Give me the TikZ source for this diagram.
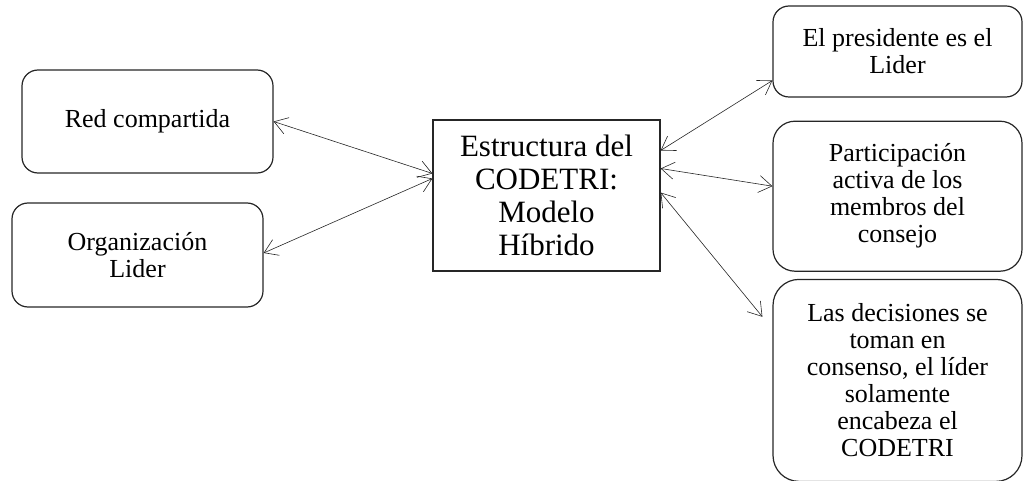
\documentclass[tikz,border=0pt]{standalone}
\usepackage{fontspec}
\setmainfont{LiberationSerif}[Extension=.ttf,UprightFont=*-Regular,BoldFont=*-Bold]
\usetikzlibrary{arrows.meta,positioning}

\begin{document}
\begin{tikzpicture}[x=1pt,y=-1pt,<->,>={Straight Barb[length=13pt,width=17pt]},line width=1.2pt,semithick]
		\tikzstyle{every node}=[draw=black!85,line width=1.2pt,align=center,text=black,inner sep=0pt]
		\tikzstyle{rbox}=[rounded corners=16pt,font=\fontsize{26}{27}\selectfont]
		\tikzstyle{cbox}=[font=\fontsize{31}{33}\selectfont]
		\useasboundingbox (0,0) rectangle (1024,481);

		\node[rbox,minimum width=251pt,minimum height=103pt] (Red) at (147.5,121.5) {Red compartida};
		\node[rbox,minimum width=251pt,minimum height=104pt] (Org) at (137.5,255) {Organización\\Lider};
		\node[cbox,minimum width=227pt,minimum height=151pt] (Estr) at (546.5,195.5) {Estructura del\\CODETRI:\\Modelo\\Híbrido};
		\node[rbox,minimum width=249pt,minimum height=91pt] (Pres) at (897.5,51.5) {El presidente es el\\Lider};
		\node[rbox,rounded corners=22pt,minimum width=249pt,minimum height=150pt] (Part) [below=23pt of Pres] {Participación\\activa de los\\membros del\\consejo};
		\node[rbox,rounded corners=26pt,minimum width=249pt,minimum height=202pt] (Deci) [below=7pt of Part] {Las decisiones se\\toman en\\consenso, el líder\\solamente\\encabeza el\\CODETRI};

		\draw[draw=black!85] (Red.east) -- ([yshift=22pt]Estr.west);
		\draw[draw=black!85] ([yshift=2pt]Org.east) -- ([yshift=17pt]Estr.west);
		\draw[draw=black!85] ([yshift=45pt]Estr.east) -- ([yshift=-29pt]Pres.west);
		\draw[draw=black!85] ([yshift=27pt]Estr.east) -- ([yshift=10pt]Part.west);
		\draw[draw=black!85] ([yshift=3pt]Estr.east) -- ([xshift=-10pt,yshift=-38pt]Deci.north west);
	\end{tikzpicture}
\end{document}
